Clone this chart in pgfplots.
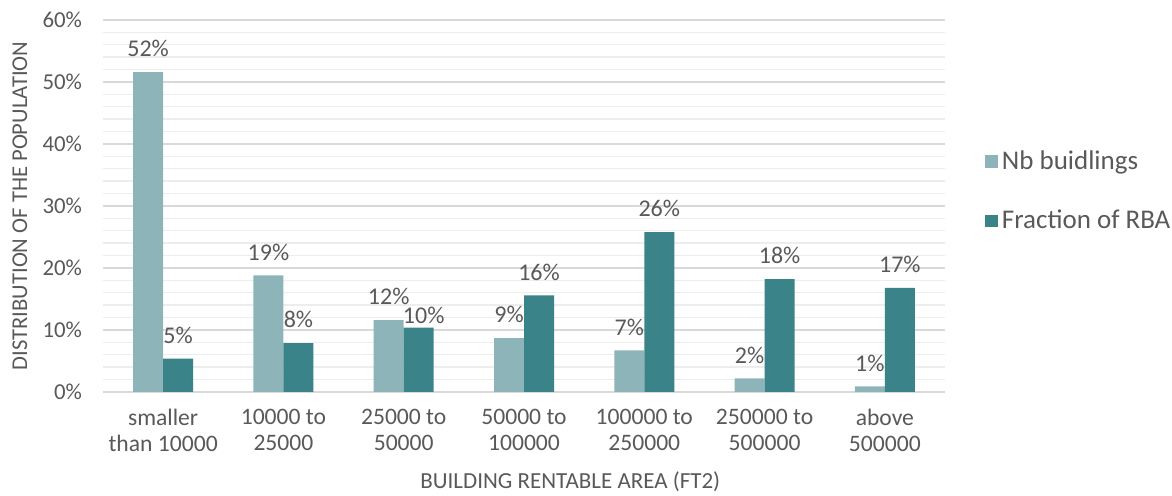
\documentclass[border=0pt]{standalone}
\usepackage{pgfplots}
\pgfplotsset{compat=1.18}
\usepackage{fontspec}
\setmainfont{Carlito}
\definecolor{lightteal}{HTML}{8DB4B8}
\definecolor{darkteal}{HTML}{3A8388}
\definecolor{txtgray}{HTML}{595959}
\definecolor{gridmaj}{HTML}{D9D9D9}
\definecolor{gridmin}{HTML}{EDEDED}

\begin{document}
\begin{tikzpicture}
\useasboundingbox (-51.5pt,-52pt) rectangle (534.5pt,196pt);
\begin{axis}[
    at={(0,0)}, anchor=south west,
    scale only axis,
    width=421pt, height=186pt,
    ybar=0pt, bar width=15pt,
    xmin=-0.5, xmax=6.5,
    ymin=0, ymax=60,
    xtick=data,
    xticklabels={smaller\\than 10000, 10000 to\\25000, 25000 to\\50000, 50000 to\\100000, 100000 to\\250000, 250000 to\\500000, above\\500000},
    xticklabel style={align=center, font=\fontsize{11.8}{13}\selectfont, text=txtgray, yshift=-5pt},
    ytick={0,10,...,60},
    minor ytick={2,4,6,8,12,14,16,18,22,24,26,28,32,34,36,38,42,44,46,48,52,54,56,58},
    yticklabel={\pgfmathprintnumber{\tick}\%},
    yticklabel style={font=\fontsize{11.4}{13}\selectfont, text=txtgray, xshift=-7pt},
    /pgf/number format/assume math mode=true,
    ymajorgrids, yminorgrids,
    major grid style={gridmaj, line width=0.7pt},
    minor grid style={gridmin, line width=0.7pt},
    axis line style={draw=none},
    major tick length=0pt, minor tick length=0pt,
    xlabel={BUILDING RENTABLE AREA (FT2)},
    xlabel style={at={(axis description cs:0.555,-0.242)}, anchor=center, font=\fontsize{11.5}{13}\selectfont, text=txtgray},
    ylabel={DISTRIBUTION OF THE POPULATION},
    ylabel style={at={(axis description cs:-0.0986,0.5)}, anchor=center, font=\fontsize{11.3}{13}\selectfont, text=txtgray},
    nodes near coords={\pgfmathprintnumber[fixed, precision=0]{\pgfplotspointmeta}\%},
    nodes near coords style={font=\fontsize{12}{14}\selectfont, text=txtgray, yshift=4pt},
    point meta=rawy,
    legend style={at={(axis description cs:1.040,0.54)}, anchor=west, draw=none, fill=none,
        font=\fontsize{13.5}{16}\selectfont, text=txtgray, row sep=15pt},
    legend cell align=left,
    legend image code/.code={\fill[#1] (0pt,-3.2pt) rectangle (6.4pt,3.2pt);},
]
% Nb buidlings
\addplot[fill=lightteal, draw=none] coordinates {
    (0,51.6) (1,18.8) (2,11.6) (3,8.7) (4,6.7) (5,2.2) (6,0.9)
};
% Fraction of RBA (dx, dy: label nudges in pt)
\addplot[fill=darkteal, draw=none,
    visualization depends on={value \thisrow{dx}\as\ldx},
    visualization depends on={value \thisrow{dy}\as\ldy},
    every node near coord/.append style={xshift=\ldx pt, yshift=\ldy pt}]
    table[x=x, y=y] {
x y dx dy
0 5.4 0 0
1 7.9 0 0
2 10.4 2.5 -5.5
3 15.6 0 0
4 25.8 0 0
5 18.2 0 0
6 16.8 0 0
};
\legend{Nb buidlings, Fraction of RBA}
\end{axis}
\end{tikzpicture}
\end{document}
